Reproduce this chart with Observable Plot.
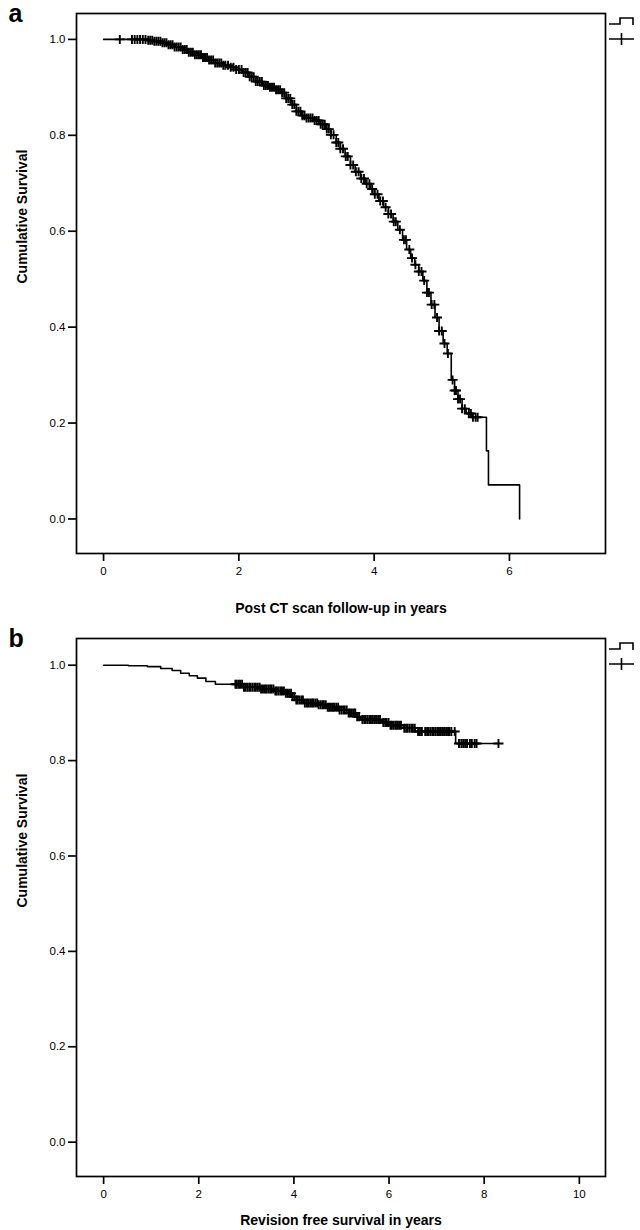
<!DOCTYPE html>
<html>
<head>
<meta charset="utf-8">
<script src="https://cdn.jsdelivr.net/npm/d3@7"></script>
<script src="https://cdn.jsdelivr.net/npm/@observablehq/plot@0.6"></script>
<style>
  html, body { margin: 0; padding: 0; background: #fff; }
  #wrap { width: 640px; }
  svg { display: block; }
</style>
</head>
<body>
<div id="wrap"></div>
<script>
// ---------- Panel a: post CT scan follow-up ----------
const panelALabel = "a";
const xTitleA = "Post CT scan follow-up in years";
const xTicksA = [0, 2, 4, 6];
// Kaplan–Meier steps: time (years) and survival after the event
const kmTimesA = [0, 0.65, 0.75, 0.85, 0.95, 1.05, 1.15, 1.25, 1.35, 1.45, 1.55, 1.65, 1.75, 1.85, 1.95, 2.05, 2.15, 2.25, 2.35, 2.45, 2.55, 2.62, 2.7, 2.77, 2.85, 2.93, 3.0, 3.1, 3.2, 3.28, 3.36, 3.44, 3.5, 3.57, 3.65, 3.72, 3.8, 3.87, 3.94, 4.0, 4.07, 4.14, 4.21, 4.28, 4.35, 4.42, 4.48, 4.54, 4.6, 4.66, 4.72, 4.78, 4.84, 4.9, 4.96, 5.02, 5.08, 5.14, 5.19, 5.24, 5.3, 5.36, 5.44, 5.66, 5.69, 6.15];
const kmSurvA  = [1.0, 0.998, 0.996, 0.993, 0.989, 0.984, 0.979, 0.973, 0.968, 0.962, 0.957, 0.951, 0.946, 0.942, 0.937, 0.931, 0.922, 0.912, 0.904, 0.900, 0.895, 0.889, 0.877, 0.864, 0.850, 0.841, 0.836, 0.831, 0.823, 0.813, 0.801, 0.785, 0.772, 0.756, 0.738, 0.724, 0.710, 0.699, 0.688, 0.677, 0.663, 0.650, 0.636, 0.620, 0.603, 0.582, 0.562, 0.544, 0.530, 0.516, 0.497, 0.472, 0.447, 0.420, 0.392, 0.366, 0.345, 0.290, 0.268, 0.250, 0.230, 0.220, 0.212, 0.142, 0.071, 0.0];
// censored observations (years)
const censorA = [0.24, 0.42, 0.46, 0.50, 0.54, 0.58, 0.62, 0.66, 0.69, 0.72, 0.75, 0.78, 0.81, 0.84, 0.87, 0.90, 0.93, 0.96, 0.99, 1.02, 1.05, 1.08, 1.11, 1.14, 1.17, 1.20, 1.23, 1.26, 1.29, 1.32, 1.35, 1.38, 1.41, 1.44, 1.47, 1.50, 1.53, 1.56, 1.59, 1.62, 1.65, 1.68, 1.71, 1.74, 1.77, 1.80, 1.84, 1.88, 1.92, 1.96, 2.00, 2.04, 2.07, 2.10, 2.13, 2.16, 2.19, 2.22, 2.25, 2.28, 2.31, 2.34, 2.37, 2.40, 2.43, 2.46, 2.49, 2.52, 2.55, 2.58, 2.61, 2.64, 2.67, 2.70, 2.73, 2.76, 2.79, 2.82, 2.85, 2.88, 2.91, 2.94, 2.97, 3.00, 3.03, 3.06, 3.09, 3.12, 3.15, 3.18, 3.21, 3.24, 3.27, 3.30, 3.33, 3.36, 3.40, 3.44, 3.47, 3.50, 3.54, 3.58, 3.61, 3.65, 3.69, 3.73, 3.77, 3.81, 3.85, 3.89, 3.93, 3.97, 4.01, 4.05, 4.09, 4.13, 4.17, 4.21, 4.25, 4.29, 4.32, 4.38, 4.44, 4.47, 4.52, 4.56, 4.61, 4.66, 4.70, 4.74, 4.78, 4.81, 4.85, 4.89, 4.93, 4.96, 5.00, 5.04, 5.09, 5.16, 5.19, 5.21, 5.24, 5.27, 5.30, 5.34, 5.40, 5.43, 5.46, 5.50, 5.53];

// ---------- Panel b: revision free survival ----------
const panelBLabel = "b";
const xTitleB = "Revision free survival in years";
const xTicksB = [0, 2, 4, 6, 8, 10];
const kmTimesB = [0, 0.52, 0.92, 1.2, 1.44, 1.62, 1.8, 1.97, 2.15, 2.35, 2.95, 3.3, 3.6, 3.8, 3.95, 4.05, 4.2, 4.5, 4.7, 4.95, 5.15, 5.3, 5.4, 5.85, 6.0, 6.3, 6.55, 7.40, 8.30];
const kmSurvB  = [1.0, 0.999, 0.997, 0.993, 0.989, 0.983, 0.978, 0.973, 0.966, 0.960, 0.954, 0.950, 0.946, 0.941, 0.934, 0.927, 0.921, 0.917, 0.912, 0.906, 0.900, 0.892, 0.886, 0.880, 0.874, 0.868, 0.861, 0.836, 0.836];
const censorB = [2.77, 2.80, 2.84, 2.87, 2.91, 2.95, 2.98, 3.02, 3.06, 3.09, 3.13, 3.17, 3.20, 3.24, 3.28, 3.31, 3.35, 3.39, 3.42, 3.46, 3.50, 3.53, 3.57, 3.61, 3.64, 3.68, 3.72, 3.75, 3.79, 3.83, 3.86, 3.90, 3.94, 3.97, 4.01, 4.05, 4.08, 4.12, 4.16, 4.19, 4.23, 4.27, 4.30, 4.34, 4.38, 4.41, 4.45, 4.49, 4.52, 4.56, 4.60, 4.63, 4.67, 4.71, 4.74, 4.78, 4.82, 4.85, 4.89, 4.93, 4.96, 5.00, 5.04, 5.07, 5.11, 5.15, 5.18, 5.22, 5.26, 5.29, 5.33, 5.37, 5.44, 5.48, 5.51, 5.55, 5.59, 5.62, 5.66, 5.70, 5.73, 5.77, 5.81, 5.88, 5.92, 5.95, 5.99, 6.03, 6.06, 6.10, 6.14, 6.17, 6.21, 6.25, 6.32, 6.36, 6.39, 6.43, 6.47, 6.50, 6.54, 6.61, 6.65, 6.69, 6.76, 6.80, 6.83, 6.87, 6.91, 6.94, 6.98, 7.02, 7.05, 7.09, 7.13, 7.16, 7.20, 7.24, 7.27, 7.31, 7.38, 7.47, 7.52, 7.56, 7.60, 7.64, 7.70, 7.74, 7.80, 7.84, 8.30];

const yTitle = "Cumulative Survival";
const yTicks = [0, 0.2, 0.4, 0.6, 0.8, 1.0];

// KM value in force at a given time (value of the step function)
function kmAt(times, surv, t) {
  let s = surv[0];
  for (let i = 0; i < times.length; i++) if (times[i] <= t) s = surv[i];
  return s;
}

// "+" censor symbol
const plusSymbol = {
  draw(ctx, size) {
    const r = Math.sqrt(size / Math.PI);
    ctx.moveTo(-r, 0); ctx.lineTo(r, 0);
    ctx.moveTo(0, -r * 0.9); ctx.lineTo(0, r * 0.9);
  }
};

const FONT = "'Liberation Sans', Arial, Helvetica, sans-serif";

function panel(opts) {
  const steps = opts.times.map((t, i) => ({t, s: opts.surv[i]}));
  const cens = opts.censor.map(t => ({t, s: kmAt(opts.times, opts.surv, t)}));
  const chart = Plot.plot({
    width: 640,
    height: opts.height,
    marginTop: opts.mt,
    marginBottom: opts.mb,
    marginLeft: 76,
    marginRight: 35,
    style: {fontFamily: FONT, fontSize: "11px", color: "#000", background: "#fff"},
    x: {domain: opts.xDomain},
    y: {domain: opts.yDomain},
    marks: [
      Plot.frame({stroke: "#000", strokeWidth: 1.7}),
      Plot.axisY({ticks: yTicks, tickFormat: d3.format(".1f"), tickSize: 8, tickPadding: 3, strokeWidth: 1.7, label: null, fontSize: 11.5}),
      Plot.axisX({ticks: opts.xTicks, tickFormat: d3.format("d"), tickSize: 8, tickPadding: 5, strokeWidth: 1.7, label: null, fontSize: 11.5}),
      Plot.line(steps, {x: "t", y: "s", curve: "step-after", stroke: "#000", strokeWidth: 1.6}),
      Plot.dot(cens, {x: "t", y: "s", symbol: plusSymbol, r: 5, fill: "none", stroke: "#000", strokeWidth: 1.9}),
      Plot.text([opts.xTitle], {frameAnchor: "bottom", dy: opts.xTitleDy, fontWeight: "bold", fontSize: 14, lineAnchor: "middle"}),
      Plot.text([yTitle], {frameAnchor: "left", dx: -54, rotate: -90, fontWeight: "bold", fontSize: 14}),
      Plot.text([opts.label], {frameAnchor: "top-left", dx: -68, dy: opts.labelDy, fontWeight: "bold", fontSize: 25, lineAnchor: "middle", textAnchor: "start"})
    ]
  });
  // legend glyphs to the right of the frame (step line + censor cross)
  const svg = d3.select(chart);
  const lx = 609, ly = opts.legendY;
  svg.append("path").attr("d", `M${lx},${ly + 6}H${lx + 11}V${ly}H${lx + 24}V${ly + 7}`)
    .attr("fill", "none").attr("stroke", "#000").attr("stroke-width", 1.6);
  svg.append("path").attr("d", `M${lx},${ly + 21}H${lx + 25}M${lx + 12.5},${ly + 15}V${ly + 27}`)
    .attr("fill", "none").attr("stroke", "#000").attr("stroke-width", 1.6);
  return chart;
}

const wrap = document.getElementById("wrap");
wrap.appendChild(panel({
  label: panelALabel, xTitle: xTitleA, xTicks: xTicksA,
  times: kmTimesA, surv: kmSurvA, censor: censorA,
  height: 625, mt: 13, mb: 72,
  xDomain: [-0.4, 7.42], yDomain: [-0.072, 1.054],
  xTitleDy: 55, labelDy: 0, legendY: 18
}));
wrap.appendChild(panel({
  label: panelBLabel, xTitle: xTitleB, xTicks: xTicksB,
  times: kmTimesB, surv: kmSurvB, censor: censorB,
  height: 605, mt: 13, mb: 54,
  xDomain: [-0.57, 10.55], yDomain: [-0.072, 1.056],
  xTitleDy: 44, labelDy: 0, legendY: 18
}));
</script>
</body>
</html>
